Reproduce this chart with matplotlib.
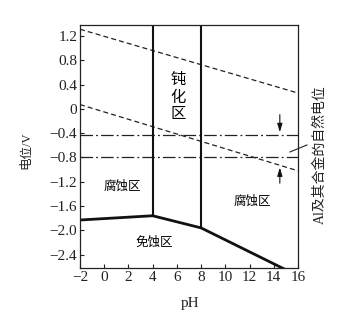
import matplotlib
matplotlib.use("Agg")
import matplotlib.pyplot as plt

plt.rcParams['font.family'] = ['Liberation Serif', 'Noto Sans CJK SC', 'DejaVu Sans']

# data
o2_pH = [-2, 16]
o2_E = [1.31, 0.26]
h2_pH = [-2, 16]
h2_E = [0.07, -1.02]
natural_E = [-0.43, -0.79]
boundary_pH = [-2, 4, 8, 14.8]
boundary_E = [-1.83, -1.76, -1.96, -2.63]
vert_pH = [4, 8]
vert_Ebottom = [-1.76, -1.96]
xticks = [-2, 0, 2, 4, 6, 8, 10, 12, 14, 16]
yticks = [1.2, 0.8, 0.4, 0, -0.4, -0.8, -1.2, -1.6, -2.0, -2.4]
ytick_labels = ['1.2', '0.8', '0.4', '0', '\u22120.4', '\u22120.8', '\u22121.2', '\u22121.6', '\u22122.0', '\u22122.4']
xtick_labels = ['\u22122', '0', '2', '4', '6', '8', '10', '12', '14', '16']
xlim = (-2, 16)
ylim = (-2.62, 1.38)

fig = plt.figure(figsize=(3.6, 3.21), dpi=100)
ax = fig.add_axes([80/360, 1-268/321, 218/360, 243/321])
ax.set_xlim(*xlim)
ax.set_ylim(*ylim)

ax.plot(o2_pH, o2_E, color='#222', lw=0.9, ls=(0, (4, 2.5)))
ax.plot(h2_pH, h2_E, color='#222', lw=0.9, ls=(0, (4, 2.5)))
for e in natural_E:
    ax.plot(xlim, [e, e], color='#222', lw=0.9, ls=(0, (10, 2.5, 1.5, 2.5)))
ax.plot(boundary_pH, boundary_E, color='#111', lw=2.0, clip_on=True, solid_joinstyle='miter')
for p, eb in zip(vert_pH, vert_Ebottom):
    ax.plot([p, p], [eb, ylim[1]], color='#111', lw=1.5)

# arrows
ax.annotate('', xy=(14.5, natural_E[0]), xytext=(14.5, -0.05),
            arrowprops=dict(arrowstyle='-|>,head_length=0.5,head_width=0.15', color='#111', lw=0.8))
ax.annotate('', xy=(14.5, -0.92), xytext=(14.5, -1.27),
            arrowprops=dict(arrowstyle='-|>,head_length=0.5,head_width=0.15', color='#111', lw=0.8))
# leader line
ax.plot([15.34, 16.74], [-0.71, -0.595], color='#222', lw=0.8, clip_on=False)

ax.text(6.1, 0.2, '钝\n化\n区', ha='center', va='center', fontsize=11, linespacing=1.3)
ax.text(1.5, -1.28, '腐蚀区', ha='center', va='center', fontsize=9)
ax.text(4.1, -2.2, '免蚀区', ha='center', va='center', fontsize=9)
ax.text(12.2, -1.53, '腐蚀区', ha='center', va='center', fontsize=9)

ax.set_xticks(xticks)
ax.set_xticklabels(xtick_labels)
ax.set_yticks(yticks)
ax.set_yticklabels(ytick_labels)
ax.tick_params(direction='in', length=3, width=0.8, labelsize=11, pad=2, color='#222', labelcolor='#222')
for s in ax.spines.values():
    s.set_linewidth(0.9)
    s.set_color('#222')

fig.text(26/360, 1-150/321, '电位/V', rotation=90, ha='center', va='center', fontsize=9, color='#222')
fig.text(190/360, 1-303/321, 'pH', ha='center', va='center', fontsize=11, color='#222')
fig.text(320/360, 1-155/321, 'Al及其合金的自然电位', rotation=90, ha='center', va='center', fontsize=10, color='#222')

fig.savefig('out.png', dpi=100)
